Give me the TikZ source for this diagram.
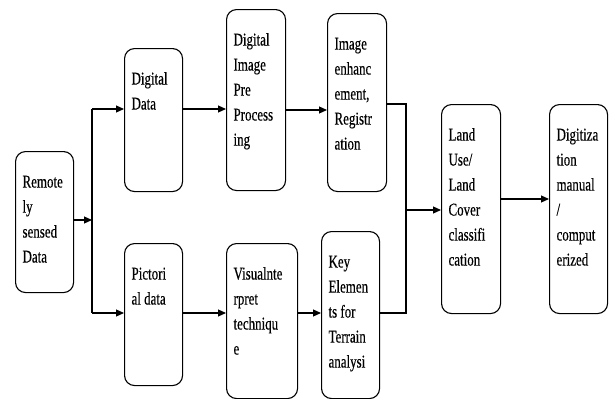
\documentclass[tikz,border=0pt]{standalone}
\usepackage{fontspec}
\setmainfont{Liberation Serif}[FakeStretch=0.72,FakeBold=0.4]
\usetikzlibrary{arrows.meta}
\newcommand{\blocktxt}[3]{\parbox[t][#2][t]{#1}{\raggedright\leftskip=7pt\rule{0pt}{36pt}#3}}
\begin{document}
\begin{tikzpicture}[x=1pt,y=-1pt,line width=1.1pt,
    >={Triangle[length=8pt,width=7pt]},
    blk/.style={draw,rounded corners=10pt,inner sep=0pt,anchor=north west,
      font=\fontsize{18}{25}\selectfont}]
    \useasboundingbox (0,0) rectangle (611,399);
    \node[blk] (rem) at (15,151) {\blocktxt{58pt}{141pt}{Remote\\ly\\sensed\\Data}};
    \node[blk] (dd) at (124,48) {\blocktxt{58pt}{143pt}{Digital\\Data}};
    \node[blk] (dipp) at (226,9) {\blocktxt{59pt}{181pt}{Digital\\Image\\Pre\\Process\\ing}};
    \node[blk] (ie) at (327,13) {\blocktxt{59pt}{178pt}{Image\\enhanc\\ement,\\Registr\\ation}};
    \node[blk] (pd) at (124,243) {\blocktxt{58pt}{142pt}{Pictori\\al data}};
    \node[blk] (vi) at (226,243) {\blocktxt{71pt}{155pt}{Visualnte\\rpret\\techniqu\\e}};
    \node[blk] (ke) at (321,231) {\blocktxt{58pt}{167pt}{Key\\Elemen\\ts for\\Terrain\\analysi}};
    \node[blk] (lu) at (441,104) {\blocktxt{59pt}{209pt}{Land\\Use/\\Land\\Cover\\classifi\\cation}};
    \node[blk] (dg) at (549,104) {\blocktxt{58pt}{209pt}{Digitiza\\tion\\manual\\/\\comput\\erized}};
    \coordinate (jm) at (92,220);
    \coordinate (jt) at (92,109);
    \coordinate (jb) at (92,313);
    \coordinate (mt) at (406,104);
    \coordinate (mm) at (406,210);
    \coordinate (mb) at (406,313);
    \draw[->] (rem.east |- jm) -- (jm);
    \draw (jt) -- (jb);
    \draw[->] (jt) -- (dd.west |- jt);
    \draw[->] (jb) -- (pd.west |- jb);
    \draw[->] (dd.east |- jt) -- (dipp.west |- jt);
    \draw[->] (dipp.east |- 0,110) -- (ie.west |- 0,110);
    \draw[->] (pd.east |- jb) -- (vi.west |- jb);
    \draw[->] (vi.east |- jb) -- (ke.west |- jb);
    \draw (ie.east |- mt) -- (mt) -- (mb) -- (ke.east |- mb);
    \draw[->] (mm) -- (lu.west |- mm);
    \draw[->] (lu.east |- 0,199) -- (dg.west |- 0,199);
\end{tikzpicture}
\end{document}
